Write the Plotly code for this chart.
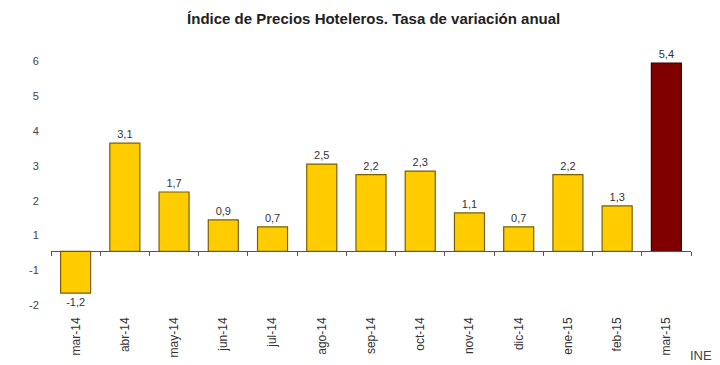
import plotly.graph_objects as go

categories = ["mar-14", "abr-14", "may-14", "jun-14", "jul-14", "ago-14", "sep-14",
              "oct-14", "nov-14", "dic-14", "ene-15", "feb-15", "mar-15"]
values = [-1.2, 3.1, 1.7, 0.9, 0.7, 2.5, 2.2, 2.3, 1.1, 0.7, 2.2, 1.3, 5.4]
value_labels = ["-1,2", "3,1", "1,7", "0,9", "0,7", "2,5", "2,2", "2,3", "1,1", "0,7", "2,2", "1,3", "5,4"]
ytick_text = ["-2", "-1", "1", "2", "3", "4", "5", "6"]
ytick_pos = [-1.55, -0.55, 0.45, 1.45, 2.45, 3.45, 4.45, 5.45]

fill_colors = ["#FFCC00"] * (len(categories) - 1) + ["#800000"]
line_colors = ["#7A6000"] * (len(categories) - 1) + ["#3A0000"]

FONT = "Liberation Sans Narrow, Arial Narrow, Liberation Sans, Arial"
y_range = [-1.8, 6.06]
zero_frac = (0 - y_range[0]) / (y_range[1] - y_range[0])

fig = go.Figure()
# visible bars, drawn against the axis that sits on the zero line
fig.add_trace(go.Bar(
    x=categories, y=values, xaxis="x2", yaxis="y",
    marker=dict(color=fill_colors, line=dict(color=line_colors, width=1.2)),
    text=value_labels, textposition="outside", cliponaxis=False,
    textfont=dict(family=FONT, size=11, color="#333333"),
    hoverinfo="skip", width=0.61,
))
# invisible companion trace so the bottom category axis carries the labels
fig.add_trace(go.Bar(
    x=categories, y=values, xaxis="x", yaxis="y",
    marker=dict(color="rgba(0,0,0,0)"), hoverinfo="skip", width=0.61,
))

fig.update_layout(
    width=720, height=365,
    margin=dict(l=51, r=29, t=40, b=51),
    paper_bgcolor="white", plot_bgcolor="white",
    showlegend=False, barmode="overlay",
    font=dict(family=FONT, color="#333333"),
    title=dict(text="<b>Índice de Precios Hoteleros. Tasa de variación anual</b>",
               x=0.519, xanchor="center", y=0.948, yanchor="middle",
               font=dict(size=15, color="#222222")),
    xaxis=dict(type="category", categoryorder="array", categoryarray=categories,
               range=[-0.5, len(categories) - 0.5], automargin=False,
               showline=False, showgrid=False, ticks="", tickangle=-90,
               tickfont=dict(family=FONT, size=12, color="#333333")),
    xaxis2=dict(type="category", categoryorder="array", categoryarray=categories,
                overlaying="x", anchor="free", position=zero_frac, side="bottom",
                range=[-0.5, len(categories) - 0.5], showgrid=False, zeroline=False,
                showline=True, linecolor="#555555", linewidth=1, automargin=False,
                ticks="outside", ticklen=4, tickcolor="#555555", tickson="boundaries",
                showticklabels=False),
    yaxis=dict(range=y_range, showgrid=False, zeroline=False, showline=False,
               tickvals=ytick_pos, ticktext=ytick_text, automargin=False,
               ticks="outside", ticklen=9, tickcolor="rgba(0,0,0,0)",
               tickfont=dict(family=FONT, size=11, color="#444444")),
)

fig.add_annotation(text="INE", xref="paper", yref="paper", x=1.036, y=-0.153,
                   xanchor="right", yanchor="middle", showarrow=False,
                   font=dict(family="Liberation Sans, Arial", size=13, color="#444444"))

fig.write_html("out.html", config={"displayModeBar": False},
               post_script="document.body.style.margin='0';")
